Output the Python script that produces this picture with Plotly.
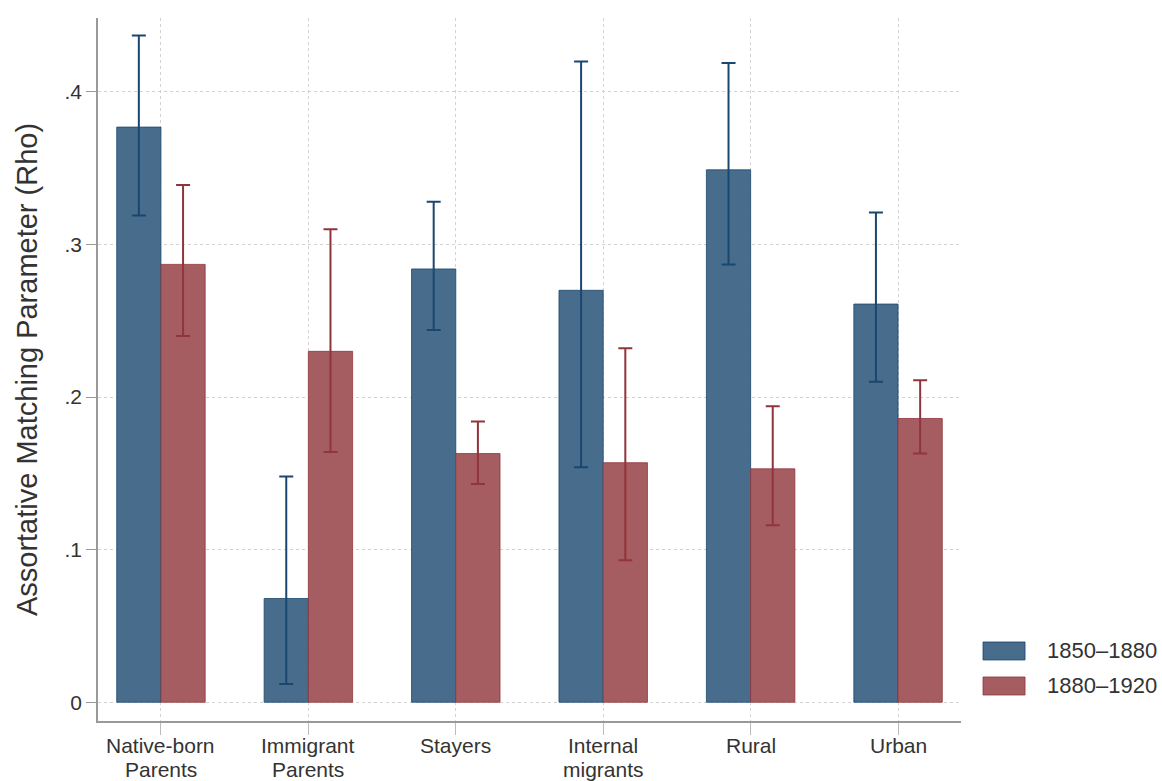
import plotly.graph_objects as go

categories = ["Native-born<br>Parents", "Immigrant<br>Parents", "Stayers", "Internal<br>migrants", "Rural", "Urban"]
series_names = ["1850–1880", "1880–1920"]
rho_1850 = [0.377, 0.068, 0.284, 0.270, 0.349, 0.261]
hi_1850 = [0.437, 0.148, 0.328, 0.420, 0.419, 0.321]
lo_1850 = [0.319, 0.012, 0.244, 0.154, 0.287, 0.210]
rho_1880 = [0.287, 0.230, 0.163, 0.157, 0.153, 0.186]
hi_1880 = [0.339, 0.310, 0.184, 0.232, 0.194, 0.211]
lo_1880 = [0.240, 0.164, 0.143, 0.093, 0.116, 0.163]
tick_vals = [0, 0.1, 0.2, 0.3, 0.4]
tick_text = ["0", ".1", ".2", ".3", ".4"]

fill_colors = ["#486c8c", "#a65d62"]
line_colors = ["#1a476f", "#90353b"]
text_color = "#333333"

x_idx = list(range(len(categories)))
fig = go.Figure()
for name, vals, hi, lo, fc, lc in [
    (series_names[0], rho_1850, hi_1850, lo_1850, fill_colors[0], line_colors[0]),
    (series_names[1], rho_1880, hi_1880, lo_1880, fill_colors[1], line_colors[1]),
]:
    fig.add_trace(go.Bar(
        x=x_idx, y=vals, name=name, showlegend=False,
        marker=dict(color=fc, line=dict(color=lc, width=0.8)),
        error_y=dict(type="data", symmetric=False,
                     array=[h - v for h, v in zip(hi, vals)],
                     arrayminus=[v - l for v, l in zip(vals, lo)],
                     color=lc, thickness=2, width=7),
    ))

# category labels: one annotation per line, tighter line spacing as in the reference
for xi, cat in zip(x_idx, categories):
    for li, line in enumerate(cat.split("<br>")):
        fig.add_annotation(xref="x", yref="paper", x=xi, y=0,
                           xanchor="center", yanchor="middle", showarrow=False,
                           yshift=-24 - 24 * li, text=line,
                           font=dict(size=21, color=text_color))

# custom legend (large swatches, as in the reference)
legend_rows = [(0.1124, 0.0868), (0.0626, 0.0370)]
for (y1, y0), name, fc, lc in zip(legend_rows, series_names, fill_colors, line_colors):
    fig.add_shape(type="rect", xref="paper", yref="paper",
                  x0=1.0255, x1=1.0742, y0=y0, y1=y1,
                  fillcolor=fc, line=dict(color=lc, width=0.8))
    fig.add_annotation(xref="paper", yref="paper", x=1.0973, y=(y0 + y1) / 2,
                       xanchor="left", yanchor="middle", showarrow=False,
                       text=name, font=dict(size=22, color=text_color))

fig.update_layout(
    width=1162, height=781,
    margin=dict(l=98, r=201, t=18, b=60, autoexpand=False),
    paper_bgcolor="white", plot_bgcolor="white",
    barmode="group", bargap=0.4, bargroupgap=0,
    font=dict(family="Liberation Sans, Arial, sans-serif", color=text_color, size=22),
    showlegend=False,
)
fig.update_xaxes(
    automargin=False,
    range=[-0.427, 5.427], tickmode="array", tickvals=x_idx, showticklabels=False,
    showline=True, linecolor="#999999", linewidth=1.5,
    ticks="outside", ticklen=12, tickcolor="#bbbbbb", tickwidth=1,
    showgrid=True, gridcolor="#d2d2d2", griddash="3px,3px", gridwidth=1,
    zeroline=False,
)
fig.update_yaxes(
    automargin=False,
    range=[-0.0123, 0.4485], tickmode="array", tickvals=tick_vals, ticktext=tick_text,
    showline=True, linecolor="#999999", linewidth=1.5,
    ticks="outside", ticklen=10, tickcolor="#999999",
    showgrid=True, gridcolor="#d2d2d2", griddash="3px,3px", gridwidth=1,
    zeroline=False, tickfont=dict(size=21, color=text_color),
    title=dict(text="Assortative Matching Parameter (Rho)", font=dict(size=29, color=text_color), standoff=18),
)

fig.write_html("out.html")
